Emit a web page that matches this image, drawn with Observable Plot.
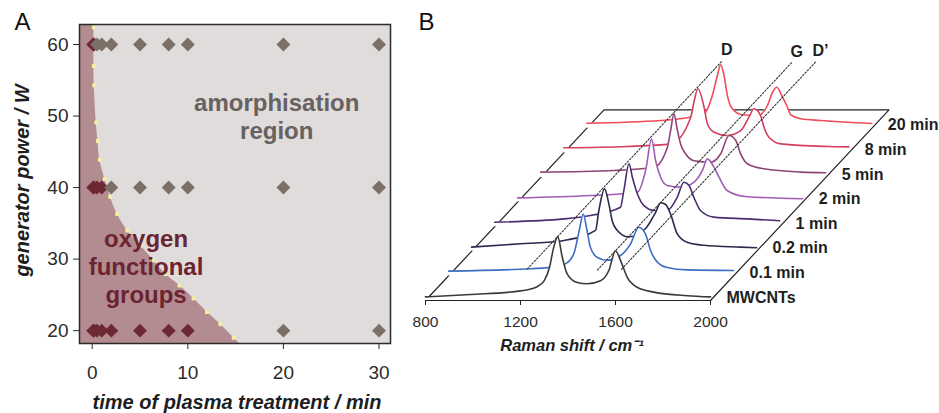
<!DOCTYPE html>
<html><head><meta charset="utf-8">
<script src="https://cdn.jsdelivr.net/npm/d3@7"></script>
<script src="https://cdn.jsdelivr.net/npm/@observablehq/plot@0.6"></script>
<style>
body{margin:0;background:#fff;}
#wrap{position:relative;width:939px;height:413px;overflow:hidden;}
#wrap svg{position:absolute;top:0;overflow:visible;}
</style></head><body><div id="wrap"></div>
<script>
const FONT = '"Liberation Sans", Arial, Helvetica, sans-serif';

// ---------- Panel A data ----------
const xTicksA = [0, 10, 20, 30];
const yTicksA = [20, 30, 40, 50, 60];
// oxygen functional groups (dark red diamonds)
const oxyTime  = [0.1, 0.2,  0.1, 0.2, 0.5, 1,  0.1, 0.2, 0.5, 1, 2, 5, 8, 10];
const oxyPower = [60, 60,    40, 40, 40, 40,    20, 20, 20, 20, 20, 20, 20, 20];
// amorphisation (grey diamonds)
const amoTime  = [0.5, 1, 2, 5, 8, 10, 20, 30,  2, 5, 8, 10, 20, 30,  20, 30];
const amoPower = [60, 60, 60, 60, 60, 60, 60, 60,  40, 40, 40, 40, 40, 40,  20, 20];
// boundary between regions
const boundaryTime  = [0.15, 0.17, 0.17, 0.17, 0.21, 0.42, 0.59, 0.79, 1.32, 1.88, 2.62, 3.66, 5.05, 6.44, 7.67, 9.13, 10.6, 12.0, 13.4, 14.8, 15.4];
const boundaryPower = [62.8, 62.4, 60.0, 57.0, 54.3, 49.1, 46.5, 43.9, 41.2, 38.7, 36.3, 34.0, 31.9, 29.8, 27.9, 26.3, 24.5, 22.6, 20.9, 19.0, 18.2];

// ---------- Panel B data ----------
const ramanTicks = [800, 1200, 1600, 2000];
const spectrumNames  = ["MWCNTs", "0.1 min", "0.2 min", "1 min", "2 min", "5 min", "8 min", "20 min"];
const spectrumColors = ["#3a3a3a", "#3d6ec2", "#2b2a4c", "#4d2d72", "#a25cb6", "#8c4576", "#d53e5e", "#f24b59"];
const specMWCNTs = [[800,6],[990,10],[1200,16],[1270,23],[1300,33],[1322,55],[1340,89],[1357,106],[1376,72],[1397,44],[1439,30],[1481,28],[1537,33],[1572,50],[1600,83],[1621,67],[1649,39],[1691,22],[1761,14],[1902,8],[2000,6]];
const spec01 = [[800,8],[1145,12],[1250,15],[1300,22],[1330,40],[1350,75],[1367,103],[1383,76],[1397,48],[1425,31],[1467,26],[1524,34],[1566,53],[1601,81],[1629,70],[1651,42],[1679,23],[1721,14],[1805,10],[2000,9]];
const spec02 = [[800,7],[1006,12.5],[1119,15],[1189,18],[1322,35],[1336,68],[1360,104],[1378,79],[1392,51],[1413,35],[1460,24],[1533,38],[1575,65],[1596,81],[1617,78],[1638,62],[1666,29],[1708,15],[1778,10],[1933,7],[2000,6]];
const spec1  = [[800,7.5],[1092,13],[1204,18.7],[1330,32.5],[1344,60],[1366,105],[1380,82.5],[1401,55],[1429,35],[1471,27],[1527,27],[1569,49],[1597,74],[1618,69],[1639,49],[1667,27],[1723,16],[1864,13],[2000,10]];
const spec2  = [[800,7],[1107,11],[1304,16.5],[1339,53],[1364,105],[1381,69],[1402,41.5],[1430,27.7],[1486,25],[1542,33],[1578,52.7],[1599,72],[1627,58],[1648,41.5],[1683,19],[1767,9],[2000,5.5]];
const spec5  = [[800,9],[1109,11.7],[1277,17],[1333,50],[1347,78],[1361,106],[1375,80],[1389,56],[1410,39.5],[1445,28],[1516,25.5],[1558,39.5],[1593,70],[1621,62],[1642,39.5],[1670,23],[1740,14.5],[1895,9],[2000,8]];
const spec8  = [[800,8.5],[1068,10.7],[1251,15],[1335,59.5],[1350,88],[1365,107],[1391,76],[1405,48.5],[1433,34.5],[1489,29],[1545,37],[1580,59.5],[1601,73.5],[1629,62],[1643,43],[1664,26],[1714,15],[1910,10.7],[2000,10]];
const spec20 = [[800,8.5],[1112,13],[1294,24],[1329,55],[1350,88],[1364,106],[1378,88],[1392,55],[1413,32.5],[1455,22.5],[1519,21.3],[1561,38],[1582,60],[1600,68.5],[1624,52],[1642,38],[1659,22.5],[1701,16],[1785,13],[2000,8]];
const spectrumPoints = [specMWCNTs, spec01, spec02, spec1, spec2, spec5, spec8, spec20];
// guide lines D, G, D'
const guideNames  = ["D", "G", "D\u2019"];
const guideShift  = [1360, 1600, 1625];
const guideHeight = [108, 83, 52];
const guideDepthStart = [-1.35, -0.78, 0];
const guideDepthEnd   = [7.09, 7.65, 8.42];

// ---------- Panel A ----------
const X_MIN_A = -1.33;
const boundary = boundaryTime.map((t, i) => ({t, p: boundaryPower[i]}));
const boundaryDots = boundary.slice(1, -1);
const oxy = oxyTime.map((t, i) => ({t, p: oxyPower[i]}));
const amo = amoTime.map((t, i) => ({t, p: amoPower[i]}));

const plotA = Plot.plot({
  width: 400, height: 413,
  marginLeft: 79, marginRight: 10, marginTop: 24, marginBottom: 70,
  style: {fontFamily: FONT, fontSize: "19px", color: "#2b2b2b", background: "transparent", overflow: "visible"},
  x: {domain: [X_MIN_A, 31.2]},
  y: {domain: [18.2, 62.8]},
  marks: [
    Plot.frame({fill: "#e0dcdb"}),
    Plot.areaX(boundary, {y: "p", x1: X_MIN_A, x2: "t", fill: "#b38c92", curve: "catmull-rom"}),
    Plot.dot(boundaryDots, {x: "t", y: "p", symbol: "square", r: 2.2, fill: "#f5efa0"}),
    Plot.dot(oxy, {x: "t", y: "p", symbol: "diamond2", r: 6.3, fill: "#6d2933"}),
    Plot.dot(amo, {x: "t", y: "p", symbol: "diamond2", r: 6.3, fill: "#7b6f68"}),
    Plot.text(["amorphisation\nregion"], {x: 19.3, y: 46.83, text: d => d, lineAnchor: "bottom", lineHeight: 1.14, fontSize: 24, fontWeight: "bold", fill: "#67615f"}),
    Plot.text(["oxygen\nfunctional\ngroups"], {x: 5.63, y: 23.9, text: d => d, lineAnchor: "bottom", lineHeight: 1.167, fontSize: 24, fontWeight: "bold", fill: "#6b2430"}),
    Plot.frame({stroke: "#2b2b2b", strokeWidth: 1.5}),
    Plot.axisX({ticks: xTicksA, tickSize: 6, tickPadding: 16, fontSize: 19, label: null, tickFormat: d => String(d), stroke: "#2b2b2b", fill: "#2b2b2b"}),
    Plot.axisY({ticks: yTicksA, tickSize: 6, tickPadding: 5, fontSize: 19, label: null, tickFormat: d => String(d), stroke: "#2b2b2b", fill: "#2b2b2b"}),
    Plot.text(["time of plasma treatment / min"], {frameAnchor: "bottom", dx: 2, dy: 65, textAnchor: "middle", lineAnchor: "bottom", fontSize: 20, fontWeight: "bold", fontStyle: "italic", fill: "#1e1e1e"}),
    Plot.text(["generator power / W"], {frameAnchor: "left", rotate: -90, dx: -51, dy: -3.5, textAnchor: "middle", lineAnchor: "bottom", fontSize: 20, fontWeight: "bold", fontStyle: "italic", fill: "#1e1e1e"}),
    Plot.text(["A"], {frameAnchor: "top-left", dx: -65, dy: 5.3, textAnchor: "start", lineAnchor: "bottom", fontSize: 24, fill: "#111"})
  ]
});
plotA.style.left = "0px";

// ---------- Panel B ----------
const STEP_W = 97;   // wavenumber shift per spectrum (oblique depth)
const STEP_I = 41;   // intensity shift per spectrum
const FLOOR_DEPTH = 7.75;
const px = d => d.w + d.k * STEP_W;
const py = d => d.I + d.k * STEP_I;

const floorRows = [
  {w: ramanTicks[0], I: 0, k: 0},
  {w: ramanTicks[ramanTicks.length - 1], I: 0, k: 0},
  {w: ramanTicks[ramanTicks.length - 1], I: 0, k: FLOOR_DEPTH},
  {w: ramanTicks[0], I: 0, k: FLOOR_DEPTH},
  {w: ramanTicks[0], I: 0, k: 0}
];

const marksB = [
  Plot.line(floorRows, {x: px, y: py, stroke: "#222", strokeWidth: 1.2})
];
for (let k = spectrumPoints.length - 1; k >= 0; k--) {
  const rows = spectrumPoints[k].map(([w, I]) => ({w, I, k}));
  marksB.push(Plot.areaY(rows, {x: px, y1: d => d.k * STEP_I, y2: py, fill: "white", curve: "monotone-x"}));
  marksB.push(Plot.line(rows, {x: px, y: py, stroke: spectrumColors[k], strokeWidth: 1.6, curve: "monotone-x"}));
}
const guideRows = guideNames.flatMap((name, i) => [
  {name, w: guideShift[i], I: guideHeight[i], k: guideDepthStart[i]},
  {name, w: guideShift[i], I: guideHeight[i], k: guideDepthEnd[i]}
]);
marksB.push(Plot.line(guideRows, {x: px, y: py, z: "name", stroke: "#333", strokeWidth: 1.1, strokeDasharray: "1.6,1.8"}));
marksB.push(Plot.text(guideRows.filter((d, i) => i % 2 === 1), {x: px, y: py, text: "name", dx: 5, dy: -11, fontSize: 16, fontWeight: "bold", fill: "#1e1e1e"}));
const labelRows = spectrumNames.map((name, k) => ({name, w: ramanTicks[ramanTicks.length - 1], I: 0, k}));
marksB.push(Plot.text(labelRows, {x: px, y: py, text: "name", dx: 16, dy: -3, textAnchor: "start", fontSize: 16, fontWeight: "bold", fill: "#1e1e1e"}));
marksB.push(Plot.axisX({ticks: ramanTicks, tickSize: 5, tickPadding: 10, fontSize: 15.5, label: null, tickFormat: d => String(d), stroke: "#222", fill: "#2b2b2b"}));
marksB.push(Plot.text(["Raman shift / cm\u207B\u00B9"], {frameAnchor: "bottom", dx: 4, dy: 45, textAnchor: "middle", lineAnchor: "middle", fontSize: 16.5, fontWeight: "bold", fontStyle: "italic", fill: "#1e1e1e"}));
marksB.push(Plot.text(["B"], {frameAnchor: "top-left", dx: -7, dy: 29, textAnchor: "start", lineAnchor: "bottom", fontSize: 24, fill: "#111"}));

const plotB = Plot.plot({
  width: 539, height: 413,
  marginLeft: 25, marginRight: 229, marginTop: 0, marginBottom: 113,
  style: {fontFamily: FONT, fontSize: "16px", color: "#2b2b2b", background: "transparent", overflow: "visible"},
  x: {domain: [800, 2000]},
  y: {domain: [0, 100], range: [300, 240], axis: null},
  marks: marksB
});
plotB.style.left = "400px";

const wrap = document.getElementById("wrap");
wrap.appendChild(plotA);
wrap.appendChild(plotB);
</script></body></html>
